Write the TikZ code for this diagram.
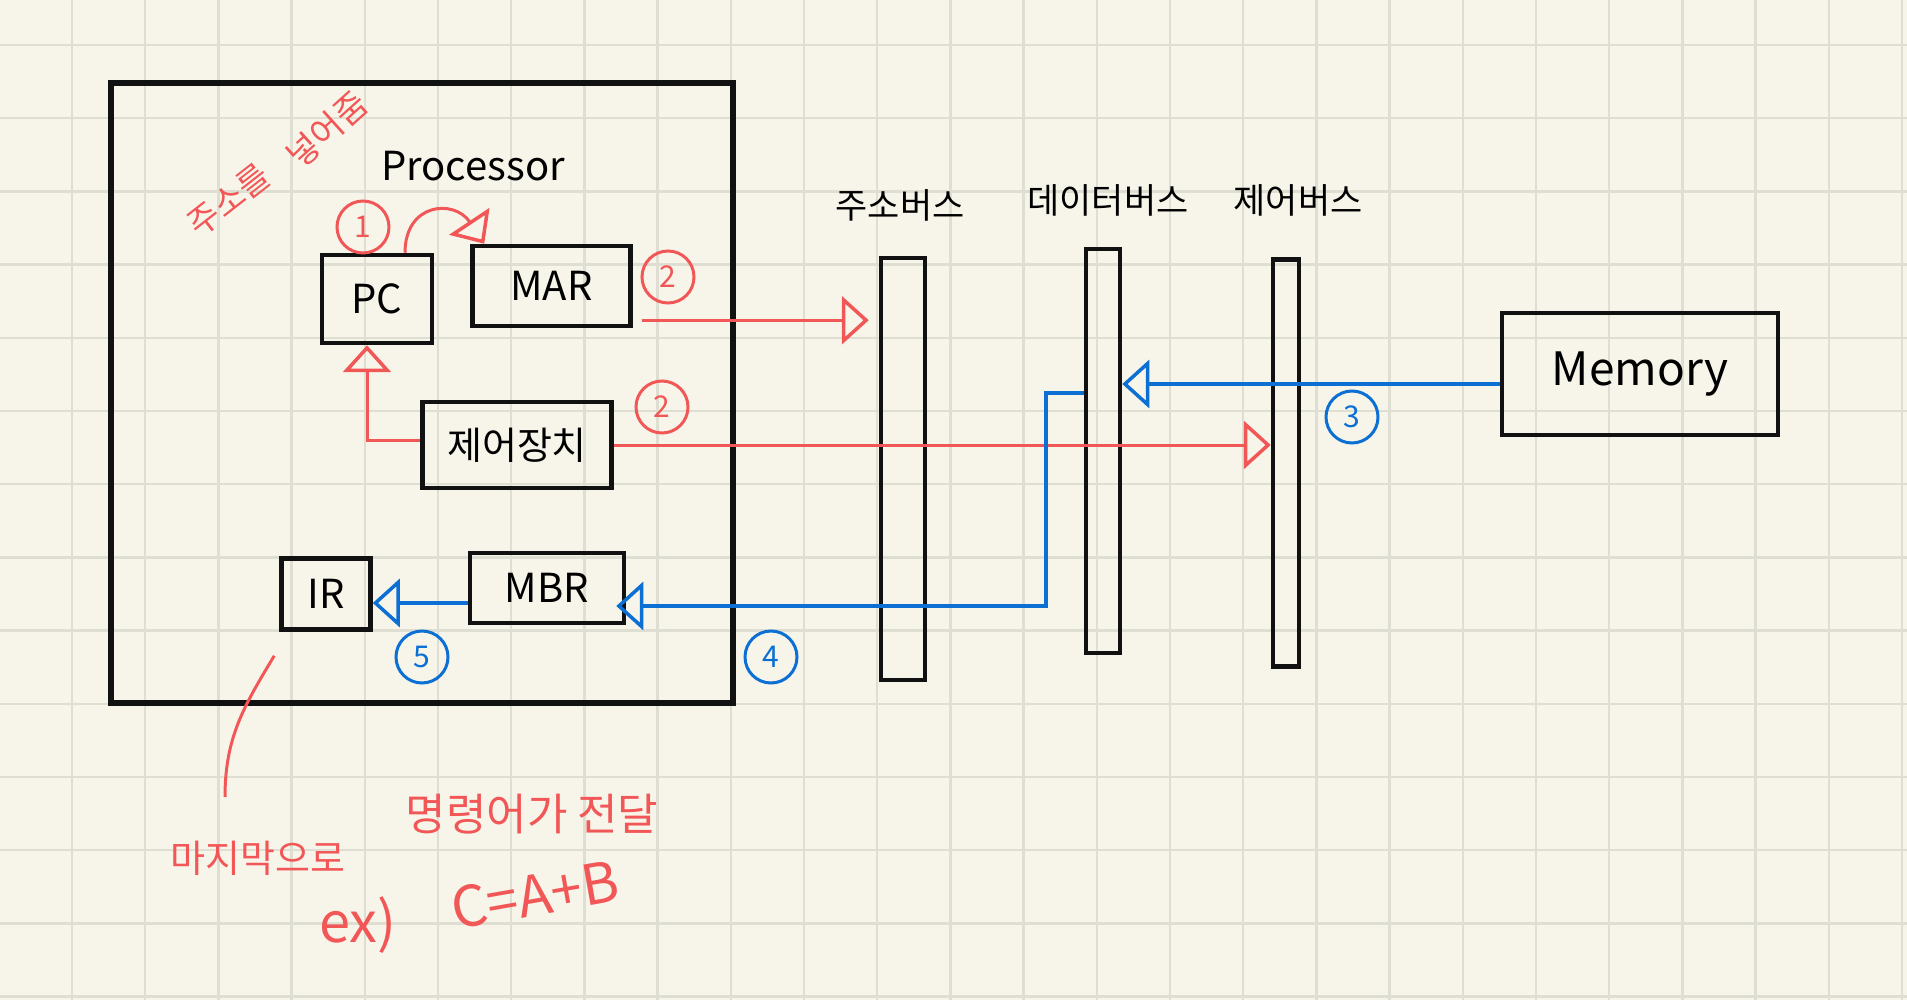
\documentclass[tikz,border=0pt]{standalone}
\usepackage{fontspec}
\setmainfont{Noto Sans CJK KR}
\usetikzlibrary{arrows.meta,positioning,calc}
\definecolor{paper}{HTML}{F7F5EA}
\definecolor{gridc}{HTML}{DFDED2}
\definecolor{penred}{HTML}{F25757}
\definecolor{penblue}{HTML}{0B6FD3}
\definecolor{ink}{HTML}{111111}
\newcommand\penfont[1]{\fontsize{#1}{#1}\selectfont}

\begin{document}
\begin{tikzpicture}[x=1pt, y=-1pt,
  gridline/.style={draw=gridc, line width=2.5pt},
  reg/.style={draw=ink, line width=4.5pt, inner sep=0pt, font=\penfont{40}},
  bus/.style={draw=ink, line width=4.5pt, inner sep=0pt},
  lbl/.style={inner sep=0pt, font=\penfont{35}},
  note/.style={inner sep=0pt, text=penred, font=\penfont{34}},
  tri/.style={-{Triangle[open, length=27pt, width=48pt, line width=3.5pt]}},
  redarrow/.style={draw=penred, line width=3pt, tri},
  bluearrow/.style={draw=penblue, line width=4pt, tri},
  num/.style={circle, draw, line width=3pt, minimum size=52pt, inner sep=0pt, font=\penfont{30}}]
  \useasboundingbox (0,0) rectangle (1907,1000);
  \fill[paper] (0,0) rectangle (1907,1000);
  % paper grid
  \foreach \gx in {-1,...,25}
    \draw[gridline] ({72+73.2*\gx},0) -- ({72+73.2*\gx},1000);
  \foreach \gy in {-1,...,13}
    \draw[gridline] (0,{45+73.2*\gy}) -- (1907,{45+73.2*\gy});

  % processor
  \node[draw=ink, line width=6pt, minimum width=622pt, minimum height=620pt] (cpu) at (422,393) {};
  \node[lbl, font=\penfont{40}] (cpulbl) at (473,166) {Processor};
  \node[reg, minimum width=110pt, minimum height=88pt] (pc) at (377,299) {PC};
  \node[reg, minimum width=158pt, minimum height=80pt, right=36pt of pc, yshift=13pt] (mar) {MAR};
  \node[reg, minimum width=189pt, minimum height=86pt, font=\penfont{38}] (ctrl) at (517,445) {제어장치};
  \node[reg, minimum width=89pt, minimum height=71pt] (ir) at (326,594) {IR};
  \node[reg, minimum width=154pt, minimum height=70pt, right=95pt of ir, yshift=6pt] (mbr) {MBR};

  % buses
  \node[bus, minimum width=44pt, minimum height=422pt] (addrbus) at (903,469) {};
  \node[bus, minimum width=34pt, minimum height=404pt] (databus) at (1103,451) {};
  \node[bus, minimum width=26pt, minimum height=407pt] (ctrlbus) at (1286,463) {};
  \node[lbl] (addrlbl) at (900,205) {주소버스};
  \node[lbl] (datalbl) at (1108,200) {데이터버스};
  \node[lbl] (ctrllbl) at (1298,200) {제어버스};

  % memory
  \node[reg, minimum width=276pt, minimum height=122pt, font=\penfont{46}] (memory) at (1640,374) {Memory};

  % step numbers
  \node[num, draw=penred, text=penred] (n1) at (363,227) {1};
  \node[num, draw=penred, text=penred] (n2a) at (668,277) {2};
  \node[num, draw=penred, text=penred] (n2b) at (662,407) {2};
  \node[num, draw=penblue, text=penblue] (n3) at (1352,417) {3};
  \node[num, draw=penblue, text=penblue] (n4) at (771,657) {4};
  \node[num, draw=penblue, text=penblue] (n5) at (422,657) {5};

  % red notes
  \node[note, rotate=38] (addrnote) at (229,200) {주소를};
  \node[note, rotate=42] (putnote) at (327,130) {넣어줌};
  \node[note, font=\penfont{38}] (lastnote) at (258,858) {마지막으로};
  \node[note, font=\penfont{44}] (instnote) at (532,814) {명령어가 전달};
  \node[note, font=\penfont{56}] (exnote) at (358,925) {ex)};
  \node[note, rotate=10, font=\penfont{56}] (sumnote) at (535,895) {C=A+B};
  \coordinate (tail) at (225,797);
  \coordinate (bend) at (1046,606);

  % flows
  \draw[redarrow] ([xshift=28pt]pc.north) .. controls +(0,-50) and +(-30,-45) .. ([xshift=14pt]mar.north west);
  \draw[redarrow, shorten >=19pt] ([xshift=9pt, yshift=8pt]mar.south east) -- ([xshift=9pt, yshift=8pt]mar.south east -| addrbus.west);
  \draw[redarrow] (ctrl.east) -- (ctrl.east -| ctrlbus.west);
  \draw[redarrow] ([yshift=5pt]ctrl.west) -| ([xshift=-10pt]pc.south);
  \draw[bluearrow] ([yshift=-10pt]memory.west) -- ([yshift=-10pt]memory.west -| databus.east);
  \draw[bluearrow, shorten >=-10pt] ([yshift=58pt]databus.west) -| (bend) -- (bend -| mbr.east);
  \draw[bluearrow] ([yshift=-15pt]mbr.west) -- ([yshift=-15pt]mbr.west -| ir.east);
  \draw[penred, line width=3pt] ([xshift=-5pt, yshift=-24pt]ir.south west) .. controls +(-30,50) and +(0,-60) .. (tail);
\end{tikzpicture}
\end{document}
